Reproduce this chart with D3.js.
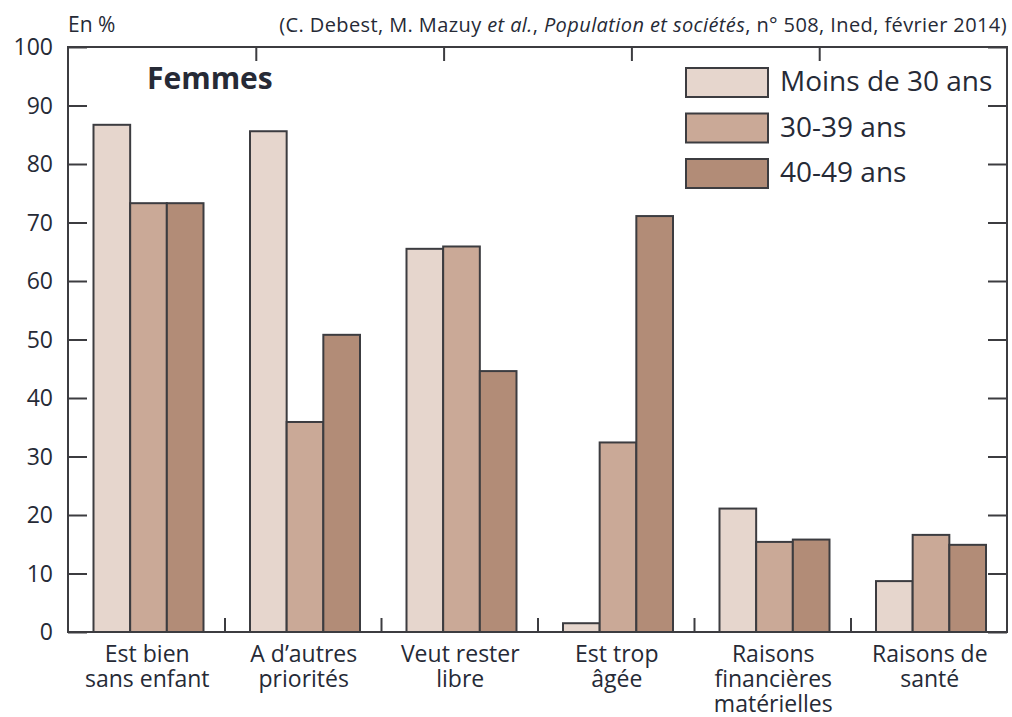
<!DOCTYPE html>
<html>
<head>
<meta charset="utf-8">
<script src="https://cdn.jsdelivr.net/npm/d3@7"></script>
<style>
  body { margin: 0; background: #fff; }
  svg text { font-family: "Open Sans", Lato, sans-serif; fill: #262a36; }
</style>
</head>
<body>
<svg id="chart" width="1012" height="717"></svg>
<script>
// data
const categories = [
    ['Est bien', 'sans enfant'],
    ['A d\u2019autres', 'priorités'],
    ['Veut rester', 'libre'],
    ['Est trop', 'âgée'],
    ['Raisons', 'financières', 'matérielles'],
    ['Raisons de', 'santé']
];
const ageGroups = ['Moins de 30 ans', '30-39 ans', '40-49 ans'];
const under30 = [86.7, 85.6, 65.5, 1.5, 21.1, 8.7];
const age30to39 = [73.3, 35.9, 65.9, 32.4, 15.4, 16.6];
const age40to49 = [73.3, 50.8, 44.6, 71.1, 15.8, 14.9];
const yTicks = [0, 10, 20, 30, 40, 50, 60, 70, 80, 90, 100];
const colors = ['#e6d6cd', '#caa997', '#b28c77'];

const series = [under30, age30to39, age40to49];

const svg = d3.select('#chart');
const margin = { left: 68, right: 1007, top: 47, bottom: 632 };

const x = d3.scaleBand()
    .domain(d3.range(categories.length))
    .range([margin.left, margin.right])
    .paddingInner(0)
    .paddingOuter(0);

const xInner = d3.scaleBand()
    .domain(d3.range(ageGroups.length))
    .range([25.5, 25.5 + 110]);

const y = d3.scaleLinear()
    .domain([0, 100])
    .range([margin.bottom, margin.top]);

// bars
const groups = svg.append('g').selectAll('g')
    .data(categories.map((c, i) => series.map((s, j) => ({ cat: i, age: j, value: s[i] }))))
    .join('g')
    .attr('transform', (d, i) => `translate(${x(i)},0)`);

groups.selectAll('rect')
    .data(d => d)
    .join('rect')
    .attr('x', d => xInner(d.age))
    .attr('width', xInner.bandwidth())
    .attr('y', d => y(d.value))
    .attr('height', d => y(0) - y(d.value))
    .attr('fill', d => colors[d.age])
    .attr('stroke', '#3c3c40')
    .attr('stroke-width', 2);

// axes: left, right, top, bottom
const axisColor = '#3c3c40';
const leftAxis = svg.append('g').attr('transform', `translate(${margin.left},0)`)
    .call(d3.axisRight(y).tickValues(yTicks).tickSize(19).tickFormat(''));
const rightAxis = svg.append('g').attr('transform', `translate(${margin.right},0)`)
    .call(d3.axisLeft(y).tickValues(yTicks).tickSize(19).tickFormat(''));

const xTop = d3.scaleLinear().domain([0, 5]).range([margin.left, margin.right]);
const topAxis = svg.append('g').attr('transform', `translate(0,${margin.top})`)
    .call(d3.axisBottom(xTop).tickValues([1, 2, 3, 4]).tickSize(14).tickFormat(''));

const xBottom = d3.scaleLinear().domain([0, categories.length]).range([margin.left, margin.right]);
const bottomAxis = svg.append('g').attr('transform', `translate(0,${margin.bottom})`)
    .call(d3.axisTop(xBottom).tickValues([1, 2, 3, 4, 5]).tickSize(14).tickFormat(''));

[leftAxis, rightAxis, topAxis, bottomAxis].forEach(g => {
    g.selectAll('path, line').attr('stroke', axisColor).attr('stroke-width', 2);
    g.select('.domain').remove();
});

svg.append('rect')
    .attr('x', margin.left).attr('y', margin.top)
    .attr('width', margin.right - margin.left)
    .attr('height', margin.bottom - margin.top)
    .attr('fill', 'none')
    .attr('stroke', axisColor)
    .attr('stroke-width', 2);

// y tick labels
svg.append('g').selectAll('text')
    .data(yTicks)
    .join('text')
    .attr('x', 53)
    .attr('y', d => y(d))
    .attr('dy', '0.36em')
    .attr('text-anchor', 'end')
    .style('font-size', '23px')
    .text(d => d);

// category labels
svg.append('g').selectAll('text')
    .data(categories)
    .join('text')
    .attr('text-anchor', 'middle')
    .style('font-size', '23px')
    .attr('transform', (d, i) => `translate(${x(i) + x.bandwidth() / 2 + 1},662)`)
    .selectAll('tspan')
    .data(d => d)
    .join('tspan')
    .attr('x', 0)
    .attr('y', (d, i) => i * 25)
    .text(d => d);

// header texts
svg.append('text')
    .attr('x', 68).attr('y', 32)
    .style('font-size', '21px')
    .text('En %');

const src = svg.append('text')
    .attr('x', 1007).attr('y', 32)
    .attr('text-anchor', 'end')
    .style('font-size', '20px')
    .style('letter-spacing', '0.4px');
src.append('tspan').text('(C. Debest, M. Mazuy ');
src.append('tspan').style('font-style', 'italic').text('et al.');
src.append('tspan').text(', ');
src.append('tspan').style('font-style', 'italic').text('Population et sociétés');
src.append('tspan').text(', n° 508, Ined, février 2014)');

svg.append('text')
    .attr('x', 147).attr('y', 89)
    .style('font-size', '30px')
    .style('font-weight', 'bold')
    .text('Femmes');

// legend
const legend = svg.append('g').selectAll('g')
    .data(ageGroups)
    .join('g')
    .attr('transform', (d, i) => `translate(686,${68 + i * 45.5})`);

legend.append('rect')
    .attr('width', 82).attr('height', 29)
    .attr('fill', (d, i) => colors[i])
    .attr('stroke', '#3c3c40')
    .attr('stroke-width', 2);

legend.append('text')
    .attr('x', 94).attr('y', 23)
    .style('font-size', '28px')
    .text(d => d);
</script>
</body>
</html>
